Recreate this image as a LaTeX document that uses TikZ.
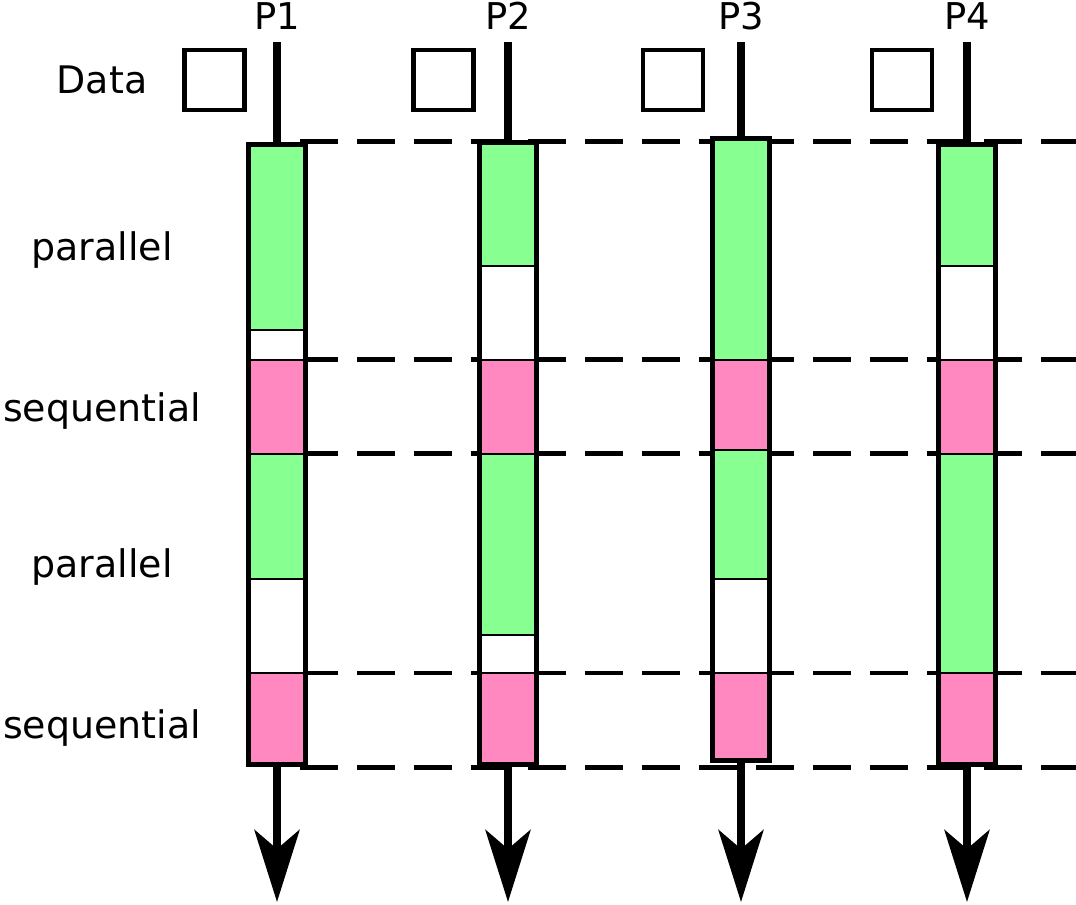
\documentclass[tikz,border=0pt]{standalone}
\usepackage{fontspec}
\setmainfont{DejaVu Sans}
\usetikzlibrary{backgrounds}
\usetikzlibrary{arrows.meta}
\definecolor{parfill}{RGB}{136,255,145}
\definecolor{seqfill}{RGB}{255,136,192}
\newcommand{\lblsize}{\fontsize{21.6pt}{26pt}\selectfont}
\newcommand{\pidsize}{\fontsize{21pt}{25pt}\selectfont}
\newcommand{\barhw}{28.5}
\newcommand{\boxsz}{1.2cm}
\newcommand{\lblx}{102}
\newcommand{\colxa}{277}
\newcommand{\colxb}{508}
\newcommand{\colxc}{741}
\newcommand{\colxd}{967}
\newcommand{\rowya}{142}
\newcommand{\rowyb}{360}
\newcommand{\rowyc}{454}
\newcommand{\rowyd}{673}
\newcommand{\rowye}{767}
\newcommand{\procseg}[4]{%
  \draw[segline,fill=#4] (#1-\barhw,#2) rectangle (#1+\barhw,#3);}

\begin{document}
\begin{tikzpicture}[x=0.02cm,y=-0.02cm,
    segline/.style={line width=0.05cm},
    procbar/.style={draw,line width=0.1cm,minimum width=1.14cm,inner sep=0},
    databox/.style={draw,line width=0.09cm,minimum size=\boxsz,inner sep=0},
    procline/.style={line width=0.16cm},
    procarrow/.style={line width=0.16cm,
      -{Stealth[length=1.44cm,width=0.9cm,inset=0.38cm]}},
    rowline/.style={line width=0.1cm,dash pattern=on 0.76cm off 0.38cm},
    lbl/.style={anchor=base,font=\lblsize,inner sep=0},
    pid/.style={anchor=base,font=\pidsize,inner sep=0}]
    \useasboundingbox (0,0) rectangle (1076,905);

    \node[pid] (pida) at (\colxa,30) {P1};
    \node[pid] (pidb) at (\colxb,30) {P2};
    \node[pid] (pidc) at (\colxc,30) {P3};
    \node[pid] (pidd) at (\colxd,30) {P4};

    \node[lbl] (data) at (\lblx,94) {Data};
    \node[lbl] (para) at (\lblx,261) {parallel};
    \node[lbl] (seqa) at (\lblx,422) {sequential};
    \node[lbl] (parb) at (\lblx,578) {parallel};
    \node[lbl] (seqb) at (\lblx,738) {sequential};

    \node[databox] (dataa) at (214.5,80) {};
    \node[databox] (datab) at (443.5,80) {};
    \node[databox] (datac) at (673,80) {};
    \node[databox] (datad) at (902,80) {};

    % P1
    \procseg{\colxa}{144}{330}{parfill}
    \procseg{\colxa}{330}{360}{white}
    \procseg{\colxa}{360}{454}{seqfill}
    \procseg{\colxa}{454}{579}{parfill}
    \procseg{\colxa}{579}{673}{white}
    \procseg{\colxa}{673}{765}{seqfill}
    % P2
    \procseg{\colxb}{142}{266}{parfill}
    \procseg{\colxb}{266}{360}{white}
    \procseg{\colxb}{360}{454}{seqfill}
    \procseg{\colxb}{454}{635}{parfill}
    \procseg{\colxb}{635}{673}{white}
    \procseg{\colxb}{673}{765}{seqfill}
    % P3
    \procseg{\colxc}{138}{360}{parfill}
    \procseg{\colxc}{360}{450}{seqfill}
    \procseg{\colxc}{450}{579}{parfill}
    \procseg{\colxc}{579}{673}{white}
    \procseg{\colxc}{673}{761}{seqfill}
    % P4
    \procseg{\colxd}{144}{266}{parfill}
    \procseg{\colxd}{266}{360}{white}
    \procseg{\colxd}{360}{454}{seqfill}
    \procseg{\colxd}{454}{673}{parfill}
    \procseg{\colxd}{673}{765}{seqfill}

    \node[procbar,minimum height=12.42cm] (bara) at (\colxa,454.5) {};
    \node[procbar,minimum height=12.46cm] (barb) at (\colxb,453.5) {};
    \node[procbar,minimum height=12.46cm] (barc) at (\colxc,449.5) {};
    \node[procbar,minimum height=12.42cm] (bard) at (\colxd,454.5) {};

    \coordinate (topa) at (\colxa,42);
    \coordinate (topb) at (\colxb,42);
    \coordinate (topc) at (\colxc,42);
    \coordinate (topd) at (\colxd,42);
    \draw[procline] (topa) -- (bara.north);
    \draw[procline] (topb) -- (barb.north);
    \draw[procline] (topc) -- (barc.north);
    \draw[procline] (topd) -- (bard.north);

    \coordinate (enda) at (\colxa,902);
    \coordinate (endb) at (\colxb,902);
    \coordinate (endc) at (\colxc,902);
    \coordinate (endd) at (\colxd,902);
    \draw[procarrow] (bara.south) -- (enda);
    \draw[procarrow] (barb.south) -- (endb);
    \draw[procarrow] (barc.south) -- (endc);
    \draw[procarrow] (bard.south) -- (endd);

    \begin{scope}[on background layer]
      \draw[rowline] (300,\rowya) -- (1076,\rowya);
      \draw[rowline] (300,\rowyb) -- (1076,\rowyb);
      \draw[rowline] (300,\rowyc) -- (1076,\rowyc);
      \draw[rowline] (300,\rowyd) -- (1076,\rowyd);
      \draw[rowline] (300,\rowye) -- (1076,\rowye);
    \end{scope}
  \end{tikzpicture}
\end{document}
